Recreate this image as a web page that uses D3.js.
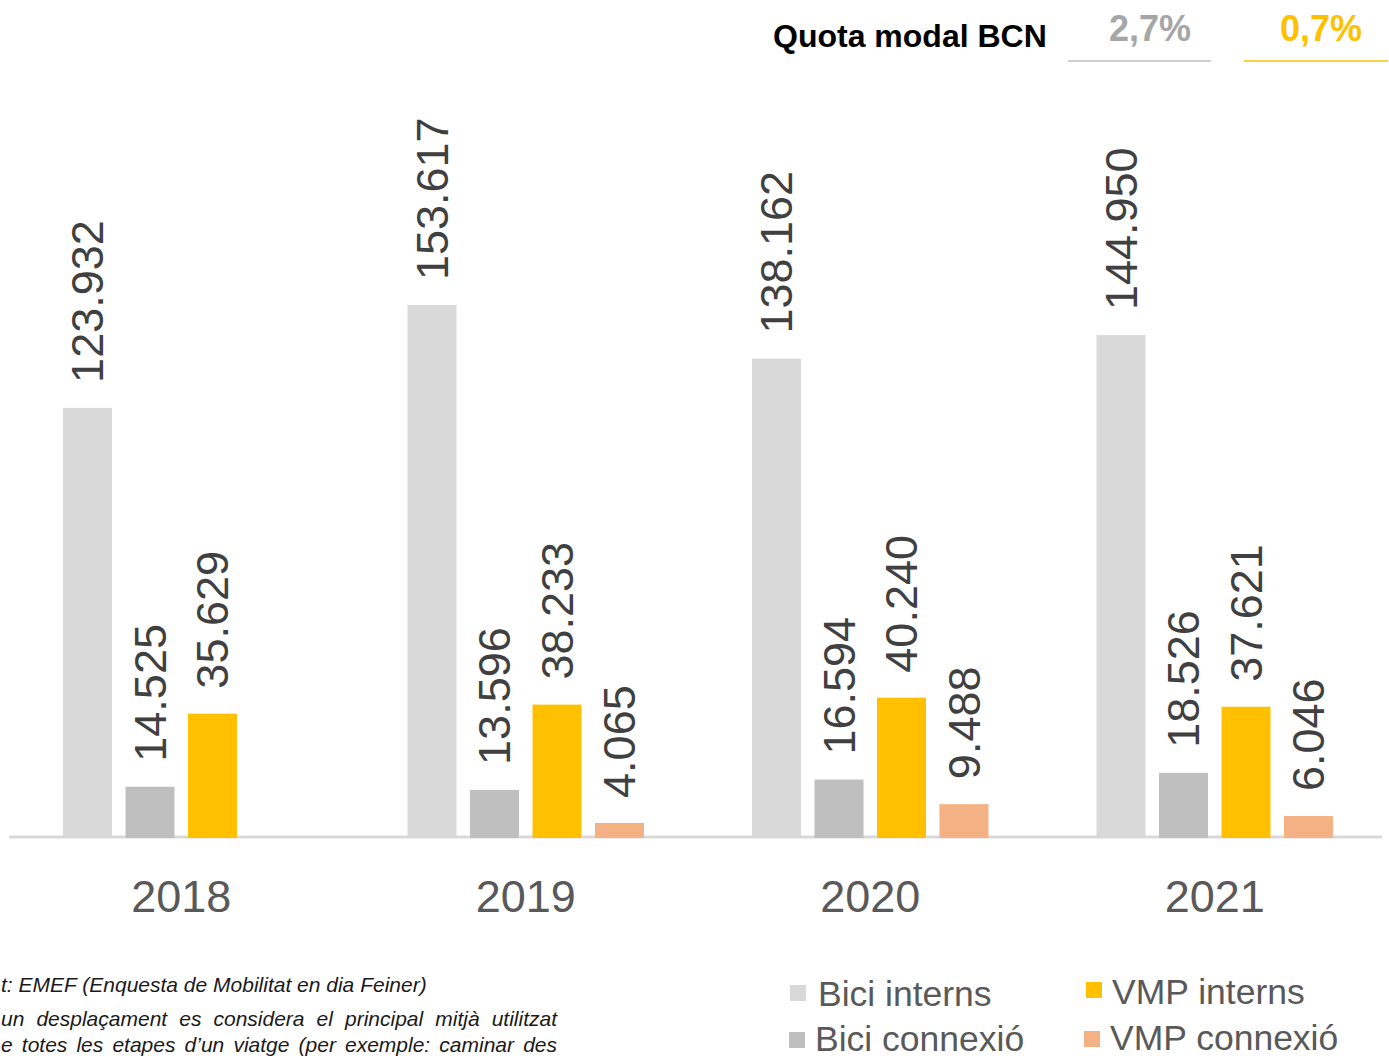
<!DOCTYPE html>
<html><head><meta charset="utf-8">
<script src="https://cdn.jsdelivr.net/npm/d3@7"></script>
<style>body{margin:0;background:#fff}svg{display:block;font-family:"Liberation Sans",Arial,sans-serif}</style>
</head><body>
<svg id="c" width="1389" height="1059"></svg>
<script>
const years = ["2018","2019","2020","2021"];
const series = ["Bici interns","Bici connexió","VMP interns","VMP connexió"];
const biciInterns = [123932,153617,138162,144950];
const biciConnexio = [14525,13596,16594,18526];
const vmpInterns = [35629,38233,40240,37621];
const vmpConnexio = [null,4065,9488,6046];
const colors = ["#d9d9d9","#bfbfbf","#ffc000","#f4b183"];
const quotaLabels = ["2,7%","0,7%"];
const footLines = ["t: EMEF (Enquesta de Mobilitat en dia Feiner)",
 "un desplaçament es considera el principal mitjà utilitzat",
 "e totes les etapes d\u2019un viatge (per exemple: caminar des"];

const values = [biciInterns,biciConnexio,vmpInterns,vmpConnexio];
const svg = d3.select("#c");
const fmt = d3.formatLocale({decimal:",",thousands:".",grouping:[3],currency:["","€"]}).format(",d");

const x0 = d3.scaleBand().domain(years).range([9,1387]).padding(0);
const x1 = d3.scaleBand().domain(series).range([(x0.bandwidth()-250)/2,(x0.bandwidth()+250)/2]).paddingInner(0.216).paddingOuter(0.108);
const y = d3.scaleLinear().domain([0,160000]).range([837,283]);

// axis baseline
svg.append("line").attr("x1",9).attr("x2",1382).attr("y1",y(0)).attr("y2",y(0))
  .attr("stroke","#d9d9d9").attr("stroke-width",3);

const data = [];
years.forEach((yr,i)=>series.forEach((s,j)=>{ if(values[j][i]!=null) data.push({yr,s,j,v:values[j][i]}); }));

const g = svg.append("g");
g.selectAll("rect").data(data).join("rect")
  .attr("x",d=>x0(d.yr)+x1(d.s)).attr("width",x1.bandwidth())
  .attr("y",d=>y(d.v)).attr("height",d=>y(0)-y(d.v)+1)
  .attr("fill",d=>colors[d.j]);

g.selectAll("text.v").data(data).join("text").attr("class","v")
  .attr("transform",d=>`translate(${x0(d.yr)+x1(d.s)+x1.bandwidth()/2},${y(d.v)-25}) rotate(-90)`)
  .attr("dominant-baseline","central").attr("text-anchor","start")
  .attr("font-size",45).attr("fill","#404040").text(d=>fmt(d.v));

// category labels
svg.append("g").selectAll("text").data(years).join("text")
  .attr("x",d=>x0(d)+x0.bandwidth()/2).attr("y",912).attr("text-anchor","middle")
  .attr("font-size",45).attr("fill","#595959").text(d=>d);

// header
svg.append("text").attr("x",773).attr("y",47).attr("font-size",32).attr("font-weight","bold")
  .attr("fill","#000").text("Quota modal BCN");
const qc = [{tx:1150,c:"#a6a6a6",l:"#bfbfbf",x1:1068,x2:1211},{tx:1321,c:"#ffc000",l:"#ffc000",x1:1244,x2:1388}];
qc.forEach((q,i)=>{
  svg.append("text").attr("x",q.tx).attr("y",41).attr("text-anchor","middle")
    .attr("font-size",36).attr("font-weight","bold").attr("fill",q.c).text(quotaLabels[i]);
  svg.append("line").attr("x1",q.x1).attr("x2",q.x2).attr("y1",61).attr("y2",61)
    .attr("stroke",q.l).attr("stroke-width",1.5);
});

// legend
const leg = [{sx:790,sy:985,tx:818,ty:1006},{sx:789,sy:1032,tx:815,ty:1051},{sx:1086,sy:982,tx:1112,ty:1004},{sx:1084,sy:1031,tx:1110,ty:1050}];
const lg = svg.append("g");
series.forEach((s,i)=>{
  lg.append("rect").attr("x",leg[i].sx).attr("y",leg[i].sy).attr("width",16).attr("height",16).attr("fill",colors[i]);
  lg.append("text").attr("x",leg[i].tx).attr("y",leg[i].ty).attr("font-size",35.5).attr("fill","#595959").text(s);
});

// footnote
const fy = [992,1026,1052];
footLines.forEach((t,i)=>{
  const tx = svg.append("text").attr("x",1).attr("y",fy[i]).attr("font-size",21).attr("font-style","italic")
    .attr("fill","#1a1a1a").text(t);
  if(i>0){
    const w = tx.node().getComputedTextLength();
    const gaps = t.split(" ").length-1;
    tx.attr("word-spacing",(556-w)/gaps);
  }
});
</script>
</body></html>
